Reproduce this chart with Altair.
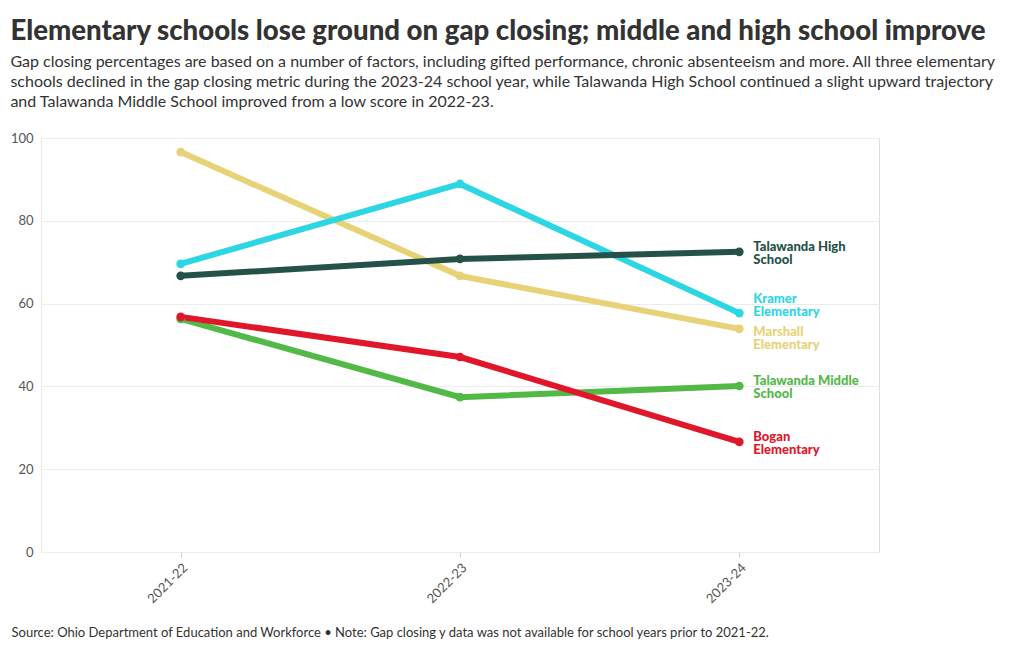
import altair as alt
import pandas as pd

years = ["2021-22", "2022-23", "2023-24"]
schools = ["Marshall Elementary", "Kramer Elementary", "Talawanda High School",
           "Talawanda Middle School", "Bogan Elementary"]
marshall = [96.6, 66.7, 53.9]
kramer = [69.6, 88.9, 57.7]
high = [66.7, 70.8, 72.5]
middle = [56.3, 37.4, 40.1]
bogan = [56.8, 47.1, 26.6]
colors = ["#e8d277", "#2dd6e3", "#255248", "#52b947", "#e0162b"]
label_lines = [["Marshall", "Elementary"], ["Kramer", "Elementary"],
               ["Talawanda High", "School"], ["Talawanda Middle", "School"],
               ["Bogan", "Elementary"]]

series = [marshall, kramer, high, middle, bogan]
rows = []
for s, vals in zip(schools, series):
    for y, v in zip(years, vals):
        rows.append({"school": s, "year": y, "value": v})
df = pd.DataFrame(rows)

lab = pd.DataFrame({
    "school": schools,
    "year": [years[-1]] * len(schools),
    "value": [v[-1] for v in series],
    "label": label_lines,
})

FONT = "Lato"
color = alt.Color("school:N", scale=alt.Scale(domain=schools, range=colors), legend=None)

x = alt.X("year:O", scale=alt.Scale(type="point", padding=0.5),
          axis=alt.Axis(labelAngle=-45, labelFontSize=13, labelColor="#555",
                        labelFont=FONT, tickColor="#ccc", tickSize=5,
                        domain=False, grid=False, labelPadding=4,
                        title="Source: Ohio Department of Education and Workforce • Note: Gap closing y data was not available for school years prior to 2021-22.",
                        titleFont=FONT, titleFontSize=13, titleFontWeight="normal",
                        titleColor="#333", titleAnchor="start", titleAlign="left",
                        titleX=-30, titleY=84, titleBaseline="alphabetic"))
y = alt.Y("value:Q", scale=alt.Scale(domain=[0, 100]),
          axis=alt.Axis(values=[0, 20, 40, 60, 80, 100], labelFontSize=13,
                        labelColor="#555", labelFont=FONT, ticks=False,
                        domainColor="#e8e8e8", gridColor="#ececec",
                        labelPadding=8, title=None))

base = alt.Chart(df)
lines = base.mark_line(strokeWidth=6).encode(x=x, y=y, color=color, detail="school:N")
points = base.mark_circle(size=75, opacity=1).encode(x=x, y=y, color=color)

def label_layer(names, dy):
    return alt.Chart(lab).transform_filter(
        alt.FieldOneOfPredicate(field="school", oneOf=names)
    ).mark_text(align="left", baseline="middle", dx=14, dy=dy, fontSize=13,
                fontWeight=900, font=FONT, lineHeight=13).encode(
        x="year:O", y="value:Q", text="label", color=color)

labels = (label_layer(["Talawanda High School", "Talawanda Middle School", "Bogan Elementary"], -5)
          + label_layer(["Kramer Elementary"], -14)
          + label_layer(["Marshall Elementary"], 3))

chart = (lines + points + labels).properties(
    width=838, height=414,
    title=alt.TitleParams(
        text="Elementary schools lose ground on gap closing; middle and high school improve",
        subtitle=["Gap closing percentages are based on a number of factors, including gifted performance, chronic absenteeism and more. All three elementary",
                  "schools declined in the gap closing metric during the 2023-24 school year, while Talawanda High School continued a slight upward trajectory",
                  "and Talawanda Middle School improved from a low score in 2022-23."],
        anchor="start", frame="bounds", font=FONT, fontSize=27.6, fontWeight=900,
        color="#333", subtitleFont=FONT, subtitleFontSize=16, subtitleColor="#333",
        subtitleLineHeight=20, subtitlePadding=8, offset=22),
).configure_view(stroke=None).configure(background="white", padding={"left": 2, "top": 10, "right": 5, "bottom": 5})

chart.save("out.html", embed_options={"renderer": "svg", "actions": False})
